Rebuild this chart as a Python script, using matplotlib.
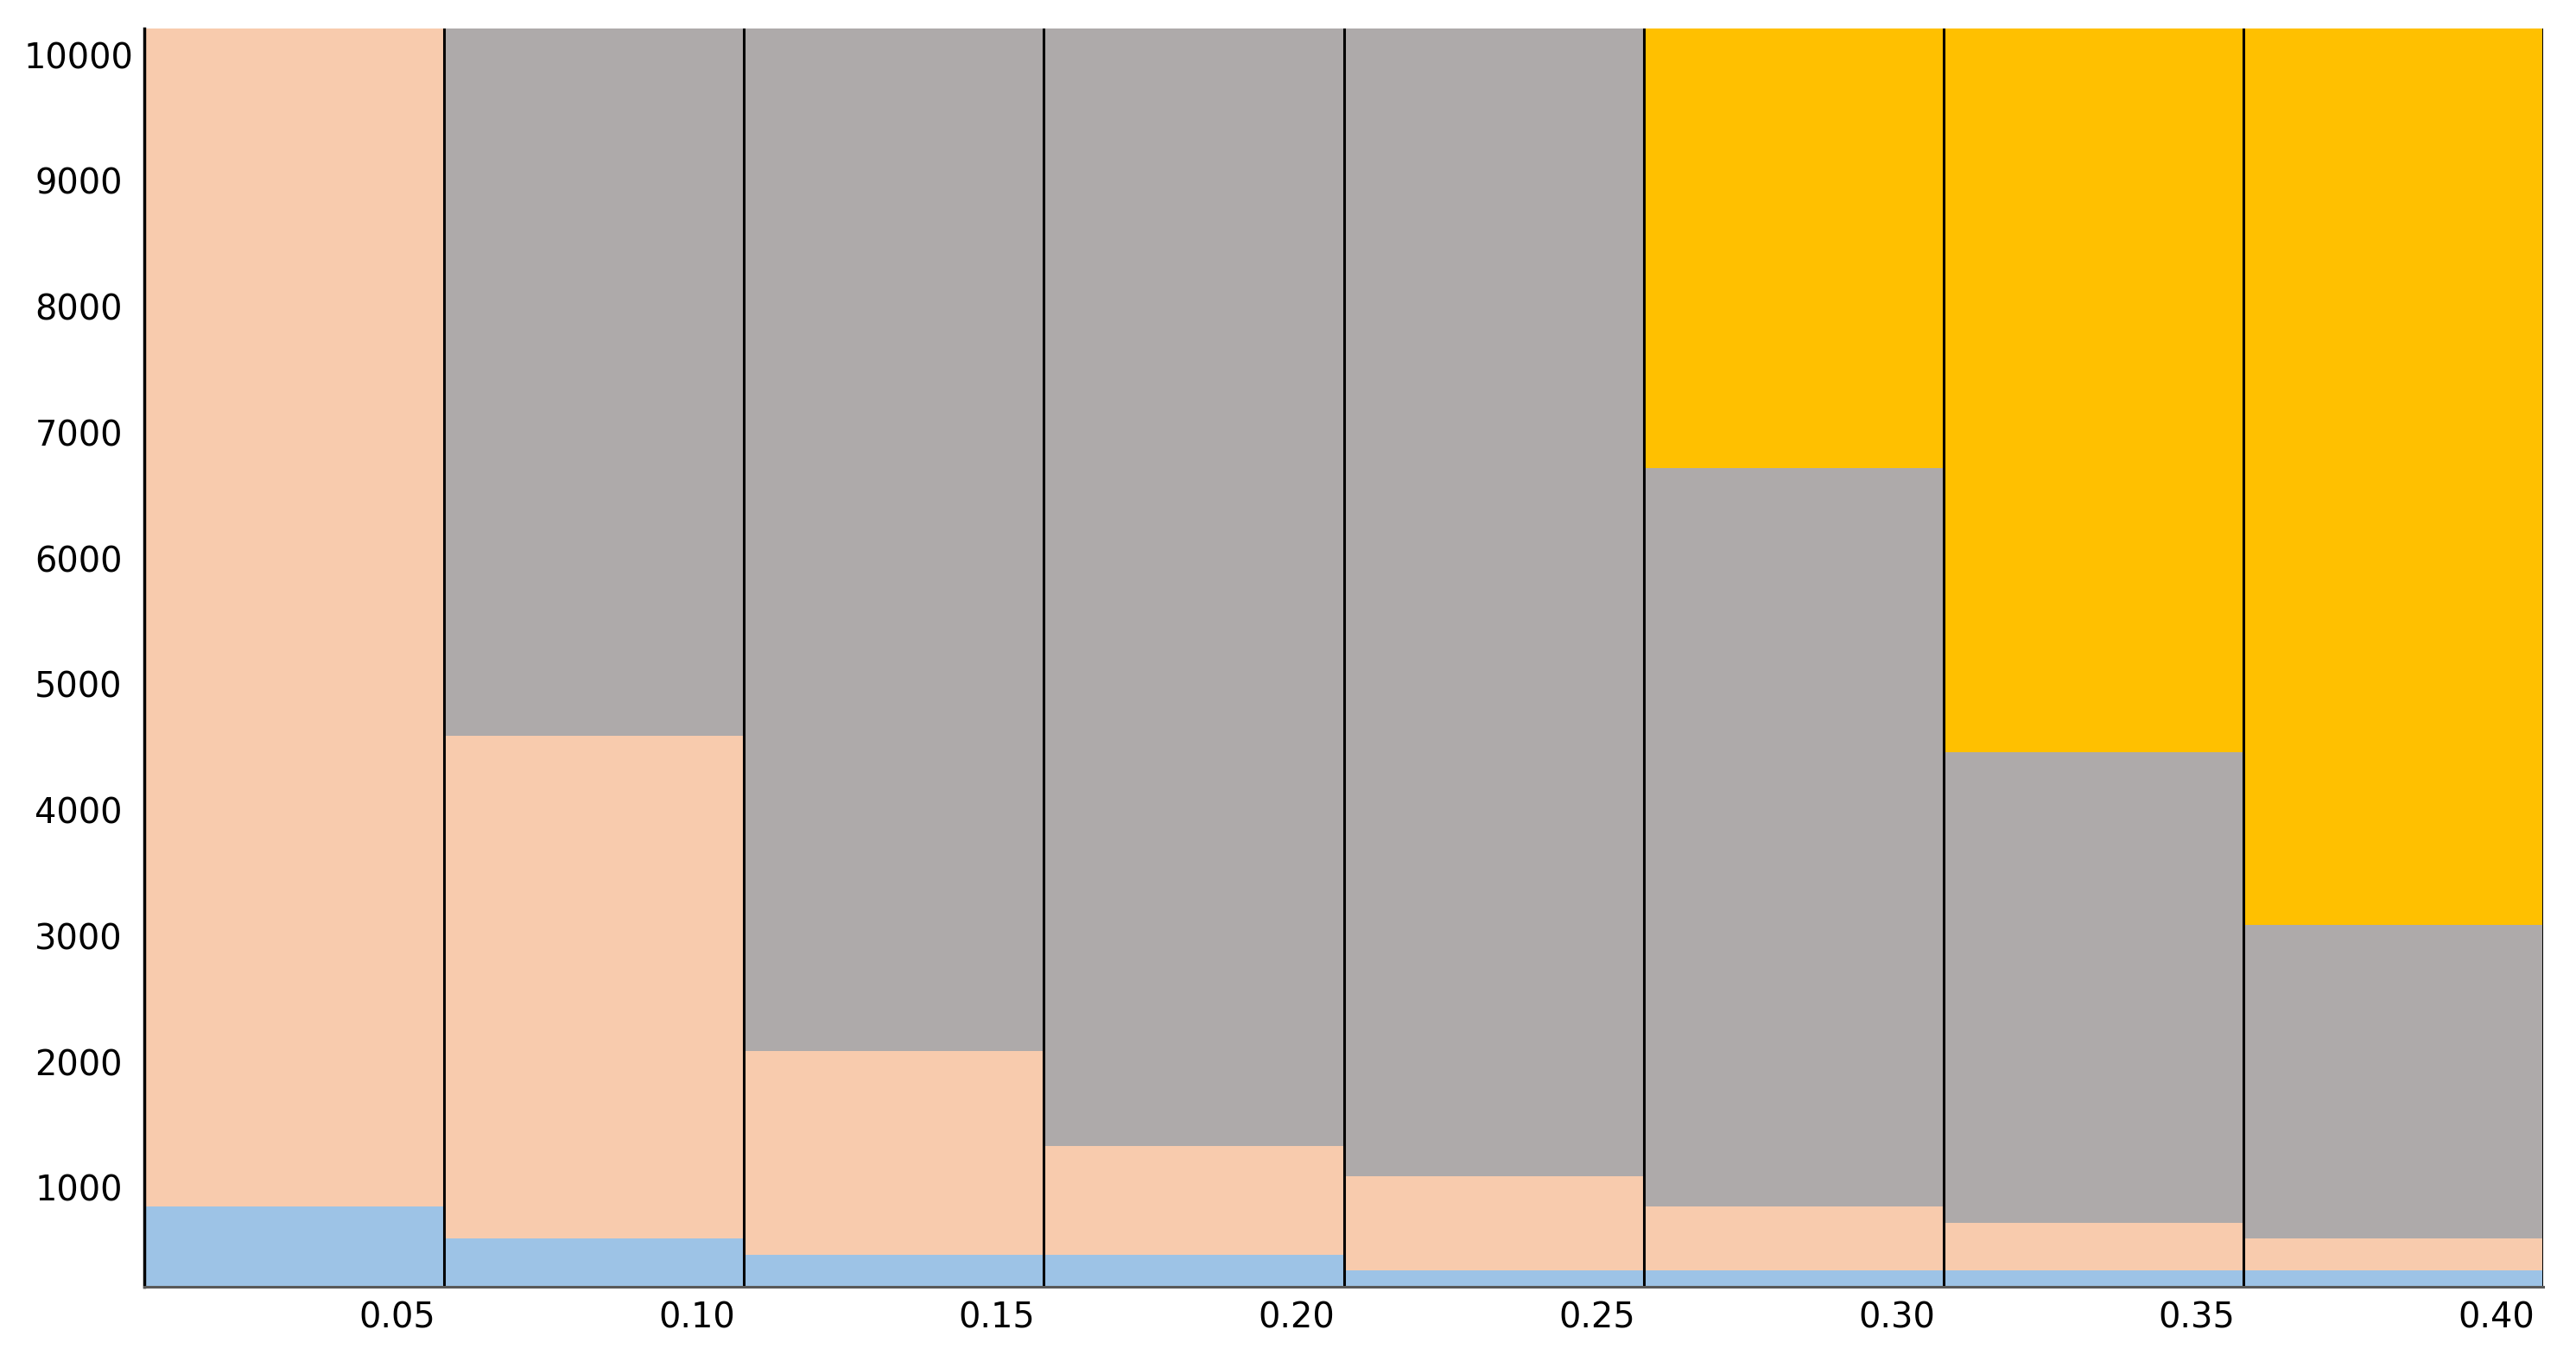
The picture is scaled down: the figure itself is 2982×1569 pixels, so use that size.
import numpy as np
from matplotlib import pyplot as plt
from matplotlib.transforms import ScaledTranslation

# upper edge of each coloured band per bin (top bands run off the chart)
edges = [0.00, 0.05, 0.10, 0.15, 0.20, 0.25, 0.30, 0.35]
blue_top = [850, 600, 470, 470, 345, 345, 345, 345]
peach_top = [10500, 4590, 2085, 1335, 1095, 850, 720, 595]
gray_top = [10500, 10500, 10500, 10500, 10500, 6715, 4460, 3090]
yellow_top = [10500, 10500, 10500, 10500, 10500, 10500, 10500, 10500]

x_ticks = [0.05, 0.10, 0.15, 0.20, 0.25, 0.30, 0.35, 0.40]
x_labels = ["0.05", "0.10", "0.15", "0.20", "0.25", "0.30", "0.35", "0.40"]
y_ticks = [1000, 2000, 3000, 4000, 5000, 6000, 7000, 8000, 9000, 10000]

colors = ["#9DC3E6", "#F8CBAD", "#AEAAAA", "#FFC000"]
bands = [blue_top, peach_top, gray_top, yellow_top]

fig = plt.figure(figsize=(29.82, 15.69), dpi=100)
ax = fig.add_axes([0.056, 0.0503, 0.9313, 0.9287])

bottom = np.zeros(len(edges))
for top, c in zip(bands, colors):
    top = np.array(top, dtype=float)
    ax.bar(edges, top - bottom, width=0.05, bottom=bottom, align="edge",
           color=c, linewidth=0)
    bottom = top

for xb in edges[1:] + [0.40]:
    ax.axvline(xb, color="black", lw=2.2, zorder=3)

ax.set_xlim(0, 0.40)
ax.set_ylim(213, 10210)

for s in ["top", "right"]:
    ax.spines[s].set_visible(False)
ax.spines["left"].set_color("black")
ax.spines["left"].set_linewidth(2.5)
ax.spines["bottom"].set_color("#595959")
ax.spines["bottom"].set_linewidth(2.2)
ax.spines["left"].set_zorder(4)
ax.spines["bottom"].set_zorder(4)

ax.set_yticks(y_ticks)
ax.set_yticklabels([str(v) for v in y_ticks], ha="center")
ax.tick_params(axis="y", length=0, pad=54.7, labelsize=28.7)

ax.set_xticks(x_ticks)
ax.set_xticklabels(x_labels, ha="right")
ax.tick_params(axis="x", length=0, pad=12, labelsize=28.7)
off = ScaledTranslation(-10 / 100, 0, fig.dpi_scale_trans)
for lab in ax.get_xticklabels():
    lab.set_transform(lab.get_transform() + off)

fig.savefig("out.png", dpi=100)
